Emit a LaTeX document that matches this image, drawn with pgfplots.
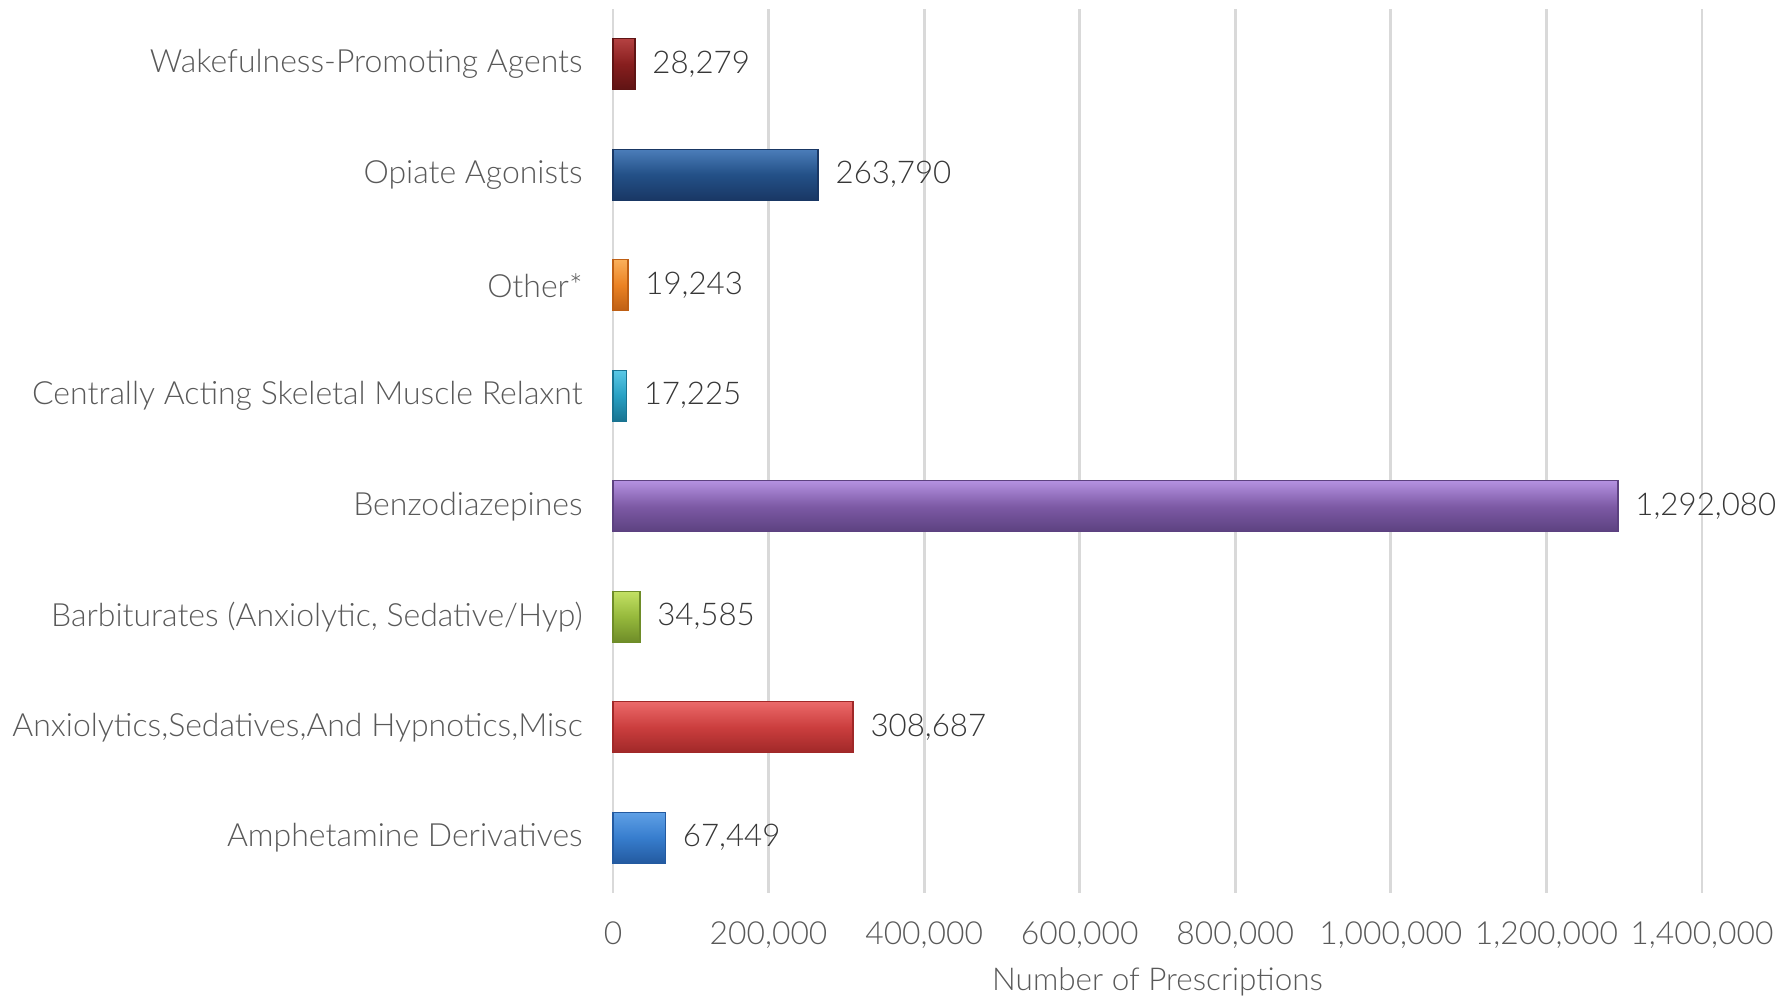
\documentclass[border=0pt]{standalone}
\usepackage{fontspec}
\setmainfont{Lato Light}
\usepackage{pgfplots}
\pgfplotsset{compat=1.18}
\definecolor{lab}{RGB}{89,89,89}
\definecolor{dlab}{RGB}{55,55,55}
\definecolor{gridc}{RGB}{217,217,217}
\definecolor{aM}{RGB}{55,125,205}\definecolor{aT}{RGB}{95,160,230}\definecolor{aB}{RGB}{35,90,160}
\definecolor{bM}{RGB}{203,62,62}\definecolor{bT}{RGB}{235,105,105}\definecolor{bB}{RGB}{160,40,40}
\definecolor{cM}{RGB}{150,185,60}\definecolor{cT}{RGB}{195,225,100}\definecolor{cB}{RGB}{110,140,40}
\definecolor{dM}{RGB}{125,90,165}\definecolor{dT}{RGB}{180,145,225}\definecolor{dB}{RGB}{92,65,128}
\definecolor{eM}{RGB}{40,160,195}\definecolor{eT}{RGB}{90,200,230}\definecolor{eB}{RGB}{25,115,145}
\definecolor{fM}{RGB}{235,130,35}\definecolor{fT}{RGB}{250,175,90}\definecolor{fB}{RGB}{190,95,20}
\definecolor{gM}{RGB}{35,80,135}\definecolor{gT}{RGB}{75,125,185}\definecolor{gB}{RGB}{25,55,100}
\definecolor{hM}{RGB}{135,30,30}\definecolor{hT}{RGB}{180,65,65}\definecolor{hB}{RGB}{95,20,20}
\pgfplotsset{
  mybar/.style={xbar, bar shift=0pt, draw=#1B, line width=0.4pt,
     top color=#1T, bottom color=#1B, middle color=#1M}
}
\begin{document}
\begin{tikzpicture}
\begin{axis}[name=ax,
  scale only axis, width=10.89cm, height=8.84cm,
  xmin=0, xmax=1400000, ymin=-0.5, ymax=7.5,
  xtick={0,200000,...,1400000},
  ytick={0,...,7},
  yticklabels={Amphetamine Derivatives,{Anxiolytics,Sedatives,And Hypnotics,Misc},{Barbiturates (Anxiolytic, Sedative/Hyp)},Benzodiazepines,Centrally Acting Skeletal Muscle Relaxnt,Other*,Opiate Agonists,Wakefulness-Promoting Agents},
  scaled x ticks=false,
  /pgf/number format/fixed, /pgf/number format/precision=0, /pgf/number format/1000 sep={,},
  /pgf/number format/assume math mode=true,
  xticklabel style={font=\fontsize{9.05}{10}\selectfont, text=lab, yshift=-0.165cm},
  yticklabel style={font=\fontsize{9.1}{10}\selectfont, text=lab, xshift=-0.18cm},
  xlabel={Number of Prescriptions},
  xlabel style={font=\fontsize{8.95}{10}\selectfont, text=lab, yshift=0.05cm},
  axis line style={draw=none},
  major tick length=0pt,
  xmajorgrids, grid style={gridc, line width=0.8pt},
  bar width=0.51cm,
  nodes near coords={\pgfmathprintnumber[fixed,precision=0,1000 sep={,},assume math mode=true]{\pgfplotspointmeta}},
  nodes near coords style={font=\fontsize{8.9}{10}\selectfont, text=dlab, xshift=0.05cm},
  point meta=x,
  clip=false,
]
\addplot[mybar=a] coordinates {(67449,0)};
\addplot[mybar=b] coordinates {(308687,1)};
\addplot[mybar=c] coordinates {(34585,2)};
\addplot[mybar=d] coordinates {(1292080,3)};
\addplot[mybar=e] coordinates {(17225,4)};
\addplot[mybar=f] coordinates {(19243,5)};
\addplot[mybar=g] coordinates {(263790,6)};
\addplot[mybar=h] coordinates {(28279,7)};
\end{axis}
\pgfresetboundingbox
\path (ax.south west) ++(-6.13cm,-1.04cm) coordinate (bl);
\path (ax.north east) ++(0.77cm,0.09cm) coordinate (tr);
\path (bl) rectangle (tr);
\end{tikzpicture}
\end{document}
